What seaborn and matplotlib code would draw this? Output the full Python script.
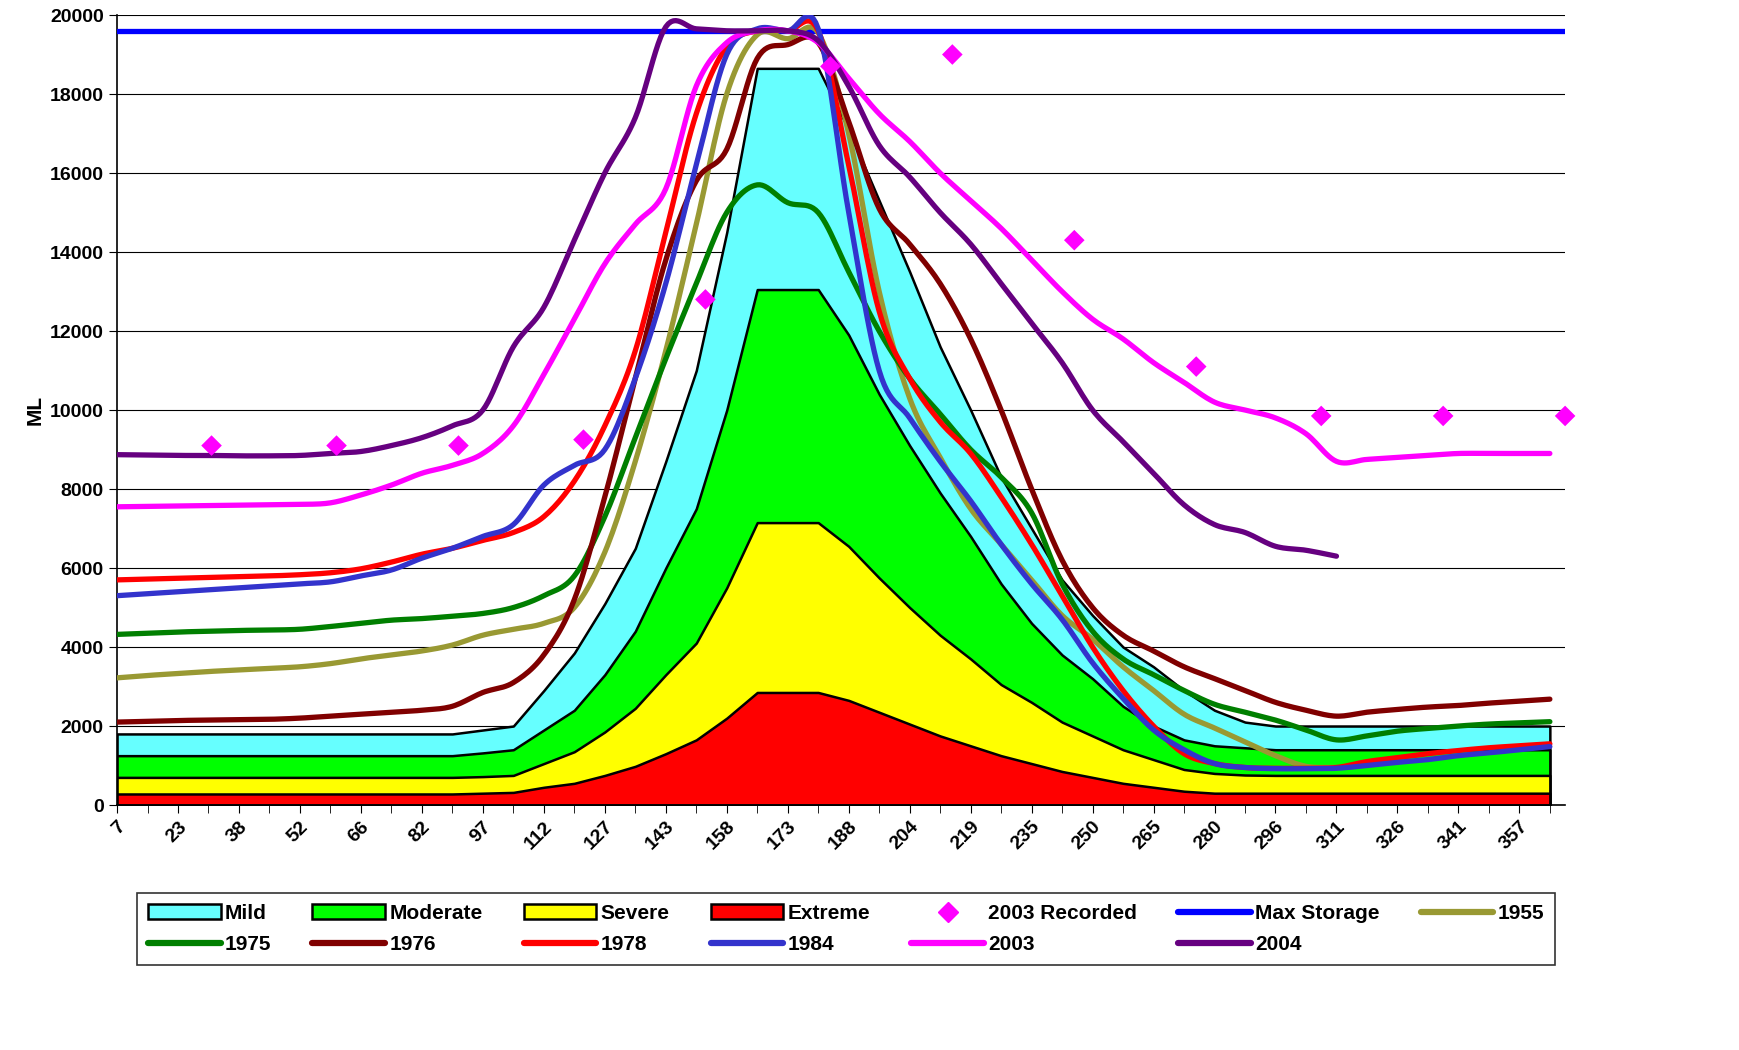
import numpy as np
import matplotlib
matplotlib.use("Agg")
import matplotlib.pyplot as plt
import seaborn as sns
from matplotlib.patches import Patch
from matplotlib.lines import Line2D

# category labels (every other category is labelled)
day_labels = ['7', '23', '38', '52', '66', '82', '97', '112', '127', '143', '158', '173',
              '188', '204', '219', '235', '250', '265', '280', '296', '311', '326', '341', '357']

mild = [1800] * 12 + [1900, 2000, 2900, 3850, 5100, 6500, 8700, 11000, 14500, 18650, 18650, 18650,
                      17100, 15300, 13500, 11600, 10000, 8300, 7000, 5700, 4800, 4000, 3500, 2900,
                      2400, 2100, 2000] + [2000] * 9
moderate = [1250] * 12 + [1320, 1400, 1900, 2400, 3300, 4400, 6000, 7500, 10000, 13050, 13050, 13050,
                          11900, 10400, 9100, 7900, 6800, 5600, 4600, 3800, 3200, 2500, 2000, 1650,
                          1500, 1450, 1400] + [1400] * 9
severe = [700] * 12 + [720, 750, 1050, 1350, 1850, 2450, 3300, 4100, 5500, 7150, 7150, 7150,
                       6550, 5750, 5000, 4300, 3700, 3050, 2600, 2100, 1750, 1400, 1150, 900,
                       800, 760, 750] + [750] * 9
extreme = [280] * 12 + [300, 320, 450, 550, 750, 980, 1300, 1650, 2200, 2850, 2850, 2850,
                        2650, 2350, 2050, 1750, 1500, 1250, 1050, 850, 700, 550, 450, 350,
                        300, 300, 300] + [300] * 9

max_storage = 19600

y1955 = [3220, 3280, 3330, 3380, 3420, 3460, 3500, 3580, 3700, 3800, 3900, 4050, 4300, 4450, 4600, 5000,
         6400, 8700, 11500, 14700, 18000, 19500, 19400, 19550, 17000, 13000, 10300, 8800, 7500, 6600,
         5700, 4800, 4200, 3500, 2900, 2300, 1950, 1600, 1250, 980, 950]
y1975 = [4320, 4350, 4380, 4400, 4420, 4430, 4450, 4520, 4600, 4680, 4720, 4780, 4850, 5000, 5300, 5800,
         7300, 9300, 11300, 13200, 15000, 15700, 15250, 15000, 13500, 12000, 10800, 9900, 9000, 8300,
         7400, 5600, 4400, 3700, 3300, 2900, 2550, 2350, 2150, 1900, 1650, 1750, 1870, 1940, 2000,
         2050, 2080, 2110]
y1976 = [2100, 2120, 2140, 2150, 2160, 2170, 2200, 2250, 2300, 2350, 2400, 2500, 2850, 3100, 3800, 5200,
         7800, 10800, 13800, 15800, 16600, 18900, 19250, 19300, 17300, 15100, 14200, 13200, 11800, 10000,
         8000, 6200, 5000, 4300, 3900, 3500, 3200, 2900, 2600, 2400, 2250, 2350, 2420, 2480, 2520,
         2580, 2630, 2680]
y1978 = [5700, 5720, 5740, 5760, 5780, 5800, 5830, 5880, 5980, 6150, 6350, 6500, 6700, 6900, 7300, 8200,
         9600, 11500, 14500, 17500, 19200, 19600, 19600, 19600, 16200, 12500, 10800, 9700, 8900, 7800,
         6600, 5300, 4000, 2900, 2000, 1300, 1050, 950, 930, 930, 950, 1100, 1200, 1300, 1380,
         1450, 1500, 1550]
y1984 = [5300, 5350, 5400, 5450, 5500, 5550, 5600, 5650, 5800, 5950, 6250, 6500, 6800, 7100, 8100, 8600,
         9000, 10800, 13200, 16200, 19000, 19650, 19600, 19650, 15000, 11000, 9800, 8700, 7700, 6600,
         5600, 4700, 3600, 2700, 1900, 1400, 1050, 950, 920, 920, 930, 1000, 1080, 1150, 1250,
         1320, 1400, 1480]
y2003 = [7550, 7560, 7570, 7580, 7590, 7600, 7610, 7650, 7850, 8100, 8400, 8600, 8900, 9600, 10900, 12300,
         13700, 14700, 15600, 18200, 19300, 19600, 19600, 19300, 18400, 17500, 16800, 16000, 15300, 14600,
         13800, 13000, 12300, 11800, 11200, 10700, 10200, 10000, 9800, 9400, 8700, 8750, 8800, 8850,
         8900, 8900, 8900, 8900]
y2004 = [8870, 8860, 8850, 8850, 8840, 8840, 8850, 8900, 8950, 9100, 9300, 9600, 10000, 11600, 12600, 14300,
         16000, 17400, 19700, 19650, 19600, 19600, 19600, 19350, 18200, 16700, 15900, 15000, 14200, 13200,
         12200, 11200, 10000, 9200, 8400, 7600, 7100, 6900, 6550, 6450, 6300]

rec_pos = [3.1, 7.2, 11.2, 15.3, 19.3, 23.4, 27.4, 31.4, 35.4, 39.5, 43.5, 47.5]
rec_vals = [9100, 9100, 9100, 9250, 12800, 18700, 19000, 14300, 11100, 9850, 9850, 9850]


def smooth(vals, n=12):
    # Catmull-Rom curve through the points, like Excel's smoothed lines
    y = np.asarray(vals, float)
    x = np.arange(len(y), dtype=float)
    px = np.concatenate([[2 * x[0] - x[1]], x, [2 * x[-1] - x[-2]]])
    py = np.concatenate([[2 * y[0] - y[1]], y, [2 * y[-1] - y[-2]]])
    xs, ys = [], []
    t = np.linspace(0, 1, n, endpoint=False)
    for i in range(1, len(px) - 2):
        for arr, out in ((px, xs), (py, ys)):
            p0, p1, p2, p3 = arr[i - 1:i + 3]
            out.extend(0.5 * (2 * p1 + (-p0 + p2) * t + (2 * p0 - 5 * p1 + 4 * p2 - p3) * t ** 2
                              + (-p0 + 3 * p1 - 3 * p2 + p3) * t ** 3))
    xs.append(x[-1])
    ys.append(y[-1])
    return np.array(xs), np.array(ys)


sns.set_style("white")
plt.rcParams['font.family'] = ['Liberation Sans', 'DejaVu Sans']
plt.rcParams['font.weight'] = 'bold'
plt.rcParams['text.color'] = 'black'
plt.rcParams['xtick.color'] = 'black'
plt.rcParams['ytick.color'] = 'black'

fig = plt.figure(figsize=(17.39, 10.5), dpi=100)
ax = fig.add_axes([0.0673, 0.2333, 0.8327, 0.7524])

cats = np.arange(48)
band_handles = []
for vals, col, name in [(mild, '#66FFFF', 'Mild'), (moderate, '#00FF00', 'Moderate'),
                        (severe, '#FFFF00', 'Severe'), (extreme, '#FF0000', 'Extreme')]:
    ax.fill_between(cats, 0, vals, facecolor=col, edgecolor='black', linewidth=1.8, zorder=2)
    band_handles.append(Patch(facecolor=col, edgecolor='black', linewidth=1.8, label=name))

sns.scatterplot(x=rec_pos, y=rec_vals, marker='D', s=110, color='#FF00FF', edgecolor='none',
                ax=ax, zorder=5, clip_on=False)
ax.axhline(max_storage, color='#0000FF', linewidth=3.8, zorder=4)

line_specs = [(y1955, '#999933', '1955'), (y1975, '#007F00', '1975'), (y1976, '#800000', '1976'),
              (y1978, '#FF0000', '1978'), (y1984, '#3333CC', '1984'), (y2003, '#FF00FF', '2003'),
              (y2004, '#660080', '2004')]
line_handles = {}
for vals, col, name in line_specs:
    xs, ys = smooth(vals)
    sns.lineplot(x=xs, y=ys, color=col, linewidth=3.8, ax=ax, zorder=4, sort=False,
                 estimator=None, solid_capstyle='round')
    line_handles[name] = Line2D([], [], color=col, linewidth=4.5, solid_capstyle='round')

ax.set_xlim(0, 47.5)
ax.set_ylim(0, 20000)
ax.set_yticks(np.arange(0, 20001, 2000))
ax.yaxis.grid(True, color='black', linewidth=0.8)
ax.set_axisbelow(True)
ax.set_xticks(np.arange(0, 48, 2))
ax.set_xticks(np.arange(0, 48), minor=True)
ax.set_xticklabels(day_labels, rotation=45, ha='right', rotation_mode='anchor', fontsize=14)
ax.tick_params(axis='x', which='both', direction='out', length=6, color='black', bottom=True,
               labelcolor='black')
ax.tick_params(axis='y', labelsize=14, length=6, left=True, direction='out', labelcolor='black')
for s in ['top', 'right']:
    ax.spines[s].set_visible(False)
for s in ['left', 'bottom']:
    ax.spines[s].set_color('black')
    ax.spines[s].set_linewidth(1.2)
ax.set_ylabel('ML', fontsize=15, fontweight='bold', color='black')

rec_handle = Line2D([], [], marker='D', color='#FF00FF', linestyle='none', markersize=10)
max_handle = Line2D([], [], color='#0000FF', linewidth=4.5)
row1 = band_handles + [rec_handle, max_handle, line_handles['1955']]
lab1 = ['Mild', 'Moderate', 'Severe', 'Extreme', '2003 Recorded', 'Max Storage', '1955']
row2 = [line_handles[k] for k in ['1975', '1976', '1978', '1984', '2003', '2004']]
lab2 = ['1975', '1976', '1978', '1984', '2003', '2004']
handles, labels = [], []
for j in range(7):
    handles.append(row1[j]); labels.append(lab1[j])
    if j < 6:
        handles.append(row2[j]); labels.append(lab2[j])
    else:
        handles.append(Line2D([], [], linestyle='none')); labels.append('')
leg = fig.legend(handles, labels, ncol=7, loc='upper left', bbox_to_anchor=(0.073, 0.1, 0.827, 0.059),
                 mode='expand', frameon=True, fancybox=False, edgecolor='black', fontsize=15,
                 handlelength=3.5, handletextpad=0.2, borderpad=0.5, labelspacing=0.6)
leg.get_frame().set_linewidth(1.2)

fig.savefig('out.png', dpi=100)
